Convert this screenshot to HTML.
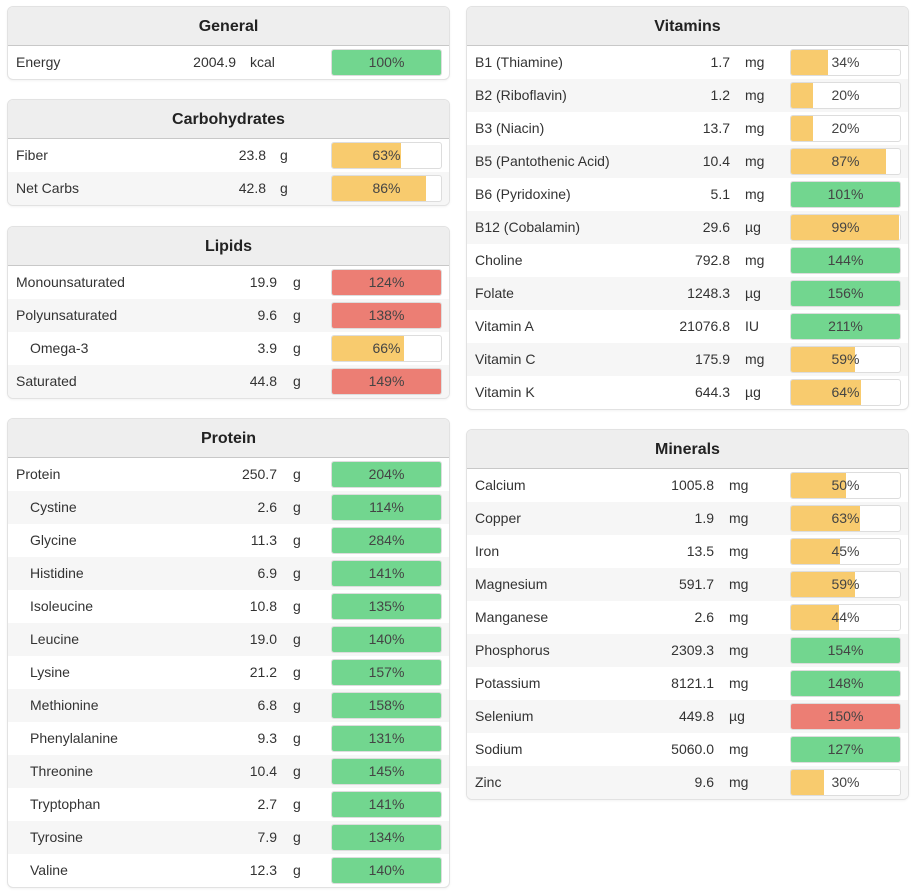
<!DOCTYPE html>
<html><head><meta charset="utf-8"><style>
body{margin:0;width:923px;height:892px;background:#fff;font-family:"Liberation Sans",sans-serif;color:#333;position:relative;overflow:hidden}
.panel{position:absolute;border:1px solid #e2e2e2;border-radius:6px;background:#fff;box-shadow:0 1px 2px rgba(0,0,0,.05);overflow:hidden}
.hdr{position:absolute;left:0;right:0;top:0;height:38px;background:#eeeeee;border-bottom:1px solid #c8c8c8;text-align:center;line-height:39px;font-weight:bold;font-size:16px;color:#222}
.row{position:absolute;left:0;right:0;height:33px;font-size:14px;line-height:33px}
.row.alt{background:#f6f6f6}
.nm{position:absolute;left:8px}
.val{position:absolute;text-align:right}
.unit{position:absolute}
.bar{position:absolute;top:3px;width:109px;height:25px;border:1px solid #ddd;border-radius:3px;background:#fff;overflow:hidden}
.fill{position:absolute;left:0;top:0;bottom:0}
.pct{position:absolute;left:0;right:0;top:0;text-align:center;line-height:25px;font-size:14px;color:#444}
</style></head><body>
<script>
const panels=[
{title:"General",left:7,top:6,valR:236,unitL:250,names:["Energy"],vals:["2004.9"],units:["kcal"],pcts:[100],ind:[0]},
{title:"Carbohydrates",left:7,top:99,valR:266,unitL:280,names:["Fiber","Net Carbs"],vals:["23.8","42.8"],units:["g","g"],pcts:[63,86],ind:[0,0]},
{title:"Lipids",left:7,top:226,valR:277,unitL:293,names:["Monounsaturated","Polyunsaturated","Omega-3","Saturated"],vals:["19.9","9.6","3.9","44.8"],units:["g","g","g","g"],pcts:[124,138,66,149],ind:[0,0,1,0]},
{title:"Protein",left:7,top:418,valR:277,unitL:293,names:["Protein","Cystine","Glycine","Histidine","Isoleucine","Leucine","Lysine","Methionine","Phenylalanine","Threonine","Tryptophan","Tyrosine","Valine"],vals:["250.7","2.6","11.3","6.9","10.8","19.0","21.2","6.8","9.3","10.4","2.7","7.9","12.3"],units:["g","g","g","g","g","g","g","g","g","g","g","g","g"],pcts:[204,114,284,141,135,140,157,158,131,145,141,134,140],ind:[0,1,1,1,1,1,1,1,1,1,1,1,1]},
{title:"Vitamins",left:466,top:6,valR:730,unitL:745,names:["B1 (Thiamine)","B2 (Riboflavin)","B3 (Niacin)","B5 (Pantothenic Acid)","B6 (Pyridoxine)","B12 (Cobalamin)","Choline","Folate","Vitamin A","Vitamin C","Vitamin K"],vals:["1.7","1.2","13.7","10.4","5.1","29.6","792.8","1248.3","21076.8","175.9","644.3"],units:["mg","mg","mg","mg","mg","µg","mg","µg","IU","mg","µg"],pcts:[34,20,20,87,101,99,144,156,211,59,64],ind:[0,0,0,0,0,0,0,0,0,0,0]},
{title:"Minerals",left:466,top:429,valR:714,unitL:729,names:["Calcium","Copper","Iron","Magnesium","Manganese","Phosphorus","Potassium","Selenium","Sodium","Zinc"],vals:["1005.8","1.9","13.5","591.7","2.6","2309.3","8121.1","449.8","5060.0","9.6"],units:["mg","mg","mg","mg","mg","mg","mg","µg","mg","mg"],pcts:[50,63,45,59,44,154,148,150,127,30],ind:[0,0,0,0,0,0,0,0,0,0],red:[7]}
];
const redGroups=["Lipids"];
panels.forEach(p=>{
  const n=p.names.length;
  const el=document.createElement('div');
  
  
  el.className='panel';
  el.style.left=p.left+'px';el.style.top=p.top+'px';el.style.width='441px';el.style.height=(39+n*33)+'px';
  const h=document.createElement('div');
  
  
  h.className='hdr';h.textContent=p.title;el.appendChild(h);
  for(let i=0;i<n;i++){
    const r=document.createElement('div');
    
    
    r.className='row'+(i%2?' alt':'');r.style.top=(39+i*33)+'px';
    const pc=p.pcts[i];
    let col;
    if(pc<100) col='#f8cb6e';
    else if(redGroups.includes(p.title)||(p.red&&p.red.includes(i))) col='#ec7e74';
    else col='#72d68f';
    const off=p.left+1;
    const barL=(p.left===7?331:790)-off;
    r.innerHTML='<span class="nm" style="left:'+(p.ind[i]?22:8)+'px">'+p.names[i]+'</span>'+
      '<span class="val" style="right:'+(441-(p.valR-off))+'px">'+p.vals[i]+'</span>'+
      '<span class="unit" style="left:'+(p.unitL-off)+'px">'+p.units[i]+'</span>'+
      '<div class="bar" style="left:'+barL+'px"><div class="fill" style="width:'+Math.min(pc,100)+'%;background:'+col+'"></div><div class="pct">'+pc+'%</div></div>';
    el.appendChild(r);
  }
  document.body.appendChild(el);
});
</script>
</body></html>
